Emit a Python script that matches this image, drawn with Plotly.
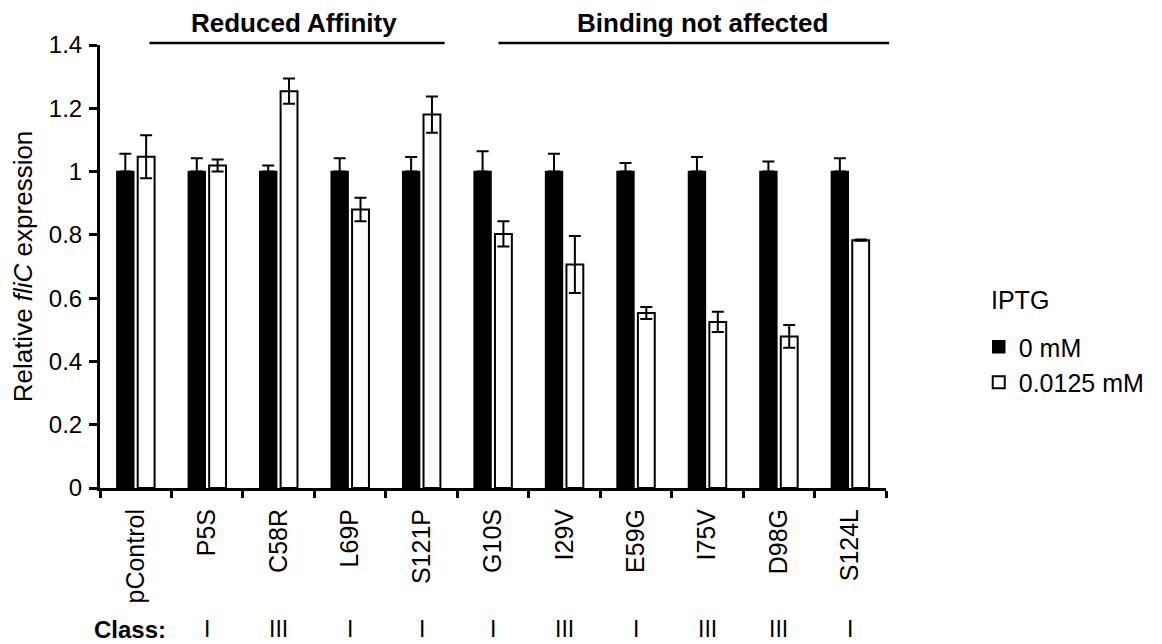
import plotly.graph_objects as go

categories = ["pControl", "P5S", "C58R", "L69P", "S121P", "G10S", "I29V", "E59G", "I75V", "D98G", "S124L"]
classes = ["I", "III", "I", "I", "I", "III", "I", "III", "III", "I"]
zero_vals = [1, 1, 1, 1, 1, 1, 1, 1, 1, 1, 1]
zero_err = [0.056, 0.042, 0.019, 0.042, 0.046, 0.064, 0.056, 0.027, 0.046, 0.032, 0.042]
low_vals = [1.047, 1.019, 1.254, 0.880, 1.180, 0.803, 0.706, 0.553, 0.525, 0.479, 0.783]
low_err = [0.068, 0.019, 0.040, 0.037, 0.057, 0.040, 0.090, 0.019, 0.032, 0.036, 0.002]
group_labels = ["Reduced Affinity", "Binding not affected"]
legend_title = "IPTG"

FONT = "Liberation Sans, Arial, sans-serif"

fig = go.Figure()
fig.add_trace(go.Bar(
    x=categories, y=zero_vals, name="0 mM",
    marker=dict(color="black", line=dict(color="black", width=1.5)),
    error_y=dict(type="data", symmetric=False, array=zero_err,
                 arrayminus=[0] * len(zero_err), color="black", thickness=2, width=6),
))
fig.add_trace(go.Bar(
    x=categories, y=low_vals, name="0.0125 mM",
    marker=dict(color="white", line=dict(color="black", width=2)),
    error_y=dict(type="data", array=low_err, color="black", thickness=2, width=6),
))

# page body has an 8px margin: figure is 1154x636 placed at (8,8)
fig.update_layout(
    width=1154, height=636,
    margin=dict(l=92, r=273, t=37, b=156),
    paper_bgcolor="white", plot_bgcolor="white",
    barmode="group", bargap=0.417, bargroupgap=0.19,
    font=dict(family=FONT, color="black", size=24),
    legend=dict(
        x=1.118, y=0.37, xanchor="left", yanchor="top",
        font=dict(size=25), itemwidth=30, tracegroupgap=0,
    ),
    showlegend=True,
)
fig.update_yaxes(
    range=[0, 1.4], dtick=0.2, tickformat="~g",
    showline=True, linecolor="black", linewidth=3,
    ticks="outside", ticklen=8, tickwidth=3, tickcolor="black",
    showgrid=False, zeroline=False,
    tickfont=dict(size=24), ticklabelstandoff=2,
    title=dict(text="Relative <i>fliC</i> expression", font=dict(size=26), standoff=12),
)
fig.update_xaxes(
    showline=True, linecolor="black", linewidth=3,
    ticks="outside", ticklen=7, tickwidth=3, tickcolor="black",
    tickson="boundaries", tickangle=-90, ticklabelstandoff=8,
    tickfont=dict(size=25), showgrid=False,
)

# legend title
fig.add_annotation(text=legend_title, xref="paper", yref="paper", x=1.1305, y=0.424,
                   showarrow=False, font=dict(size=25), xanchor="left", yanchor="middle")

# group brackets
fig.add_shape(type="line", xref="paper", yref="paper", x0=0.063, x1=0.4385, y0=1.0045, y1=1.0045,
              line=dict(color="black", width=2.5))
fig.add_shape(type="line", xref="paper", yref="paper", x0=0.507, x1=1.004, y0=1.0045, y1=1.0045,
              line=dict(color="black", width=2.5))
fig.add_annotation(text="<b>%s</b>" % group_labels[0], xref="paper", yref="paper", x=0.247, y=1.05,
                   showarrow=False, font=dict(size=26), xanchor="center", yanchor="middle")
fig.add_annotation(text="<b>%s</b>" % group_labels[1], xref="paper", yref="paper", x=0.767, y=1.05,
                   showarrow=False, font=dict(size=26), xanchor="center", yanchor="middle")

# class row
fig.add_annotation(text="<b>Class:</b>", xref="paper", yref="paper", x=0.0387, y=-0.319,
                   showarrow=False, font=dict(size=24), xanchor="center", yanchor="middle")
for cat, cl in zip(categories[1:], classes):
    fig.add_annotation(text=cl, xref="x", yref="paper", x=cat, y=-0.319,
                       showarrow=False, font=dict(size=23), xanchor="center", yanchor="middle")

fig.write_html("out.html")
